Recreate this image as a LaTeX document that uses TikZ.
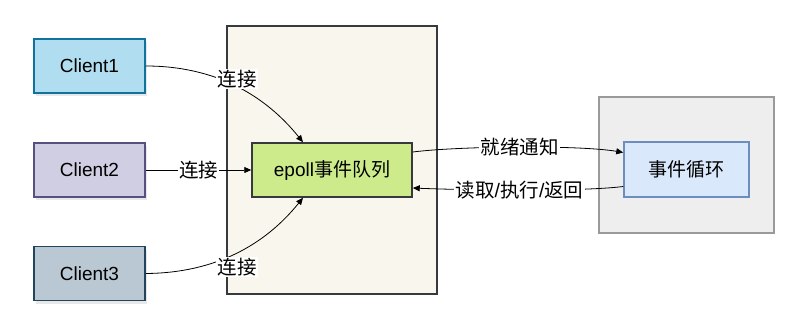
\documentclass[tikz,border=0pt]{standalone}
\usepackage{fontspec}
\setmainfont{Liberation Sans}
\newfontfamily\cjk{Noto Sans CJK SC}
\usetikzlibrary{arrows.meta,shadows}
\definecolor{cOneF}{HTML}{B1DDF0}
\definecolor{cOneD}{HTML}{10739E}
\definecolor{cTwoF}{HTML}{D0CEE2}
\definecolor{cTwoD}{HTML}{56517E}
\definecolor{cThrF}{HTML}{BAC8D3}
\definecolor{cThrD}{HTML}{23445D}
\definecolor{epF}{HTML}{CDEB8B}
\definecolor{darkD}{HTML}{36393D}
\definecolor{bigF}{HTML}{F9F7ED}
\definecolor{loopF}{HTML}{EEEEEE}
\definecolor{loopD}{HTML}{9A9A9A}
\definecolor{innF}{HTML}{DAE8FC}
\definecolor{innD}{HTML}{6C8EBF}
\tikzset{
  box/.style={draw, line width=1.5pt, minimum width=111pt, minimum height=54pt, inner sep=0pt, font=\fontsize{19}{22}\selectfont},
  shad/.style={drop shadow={opacity=0.18, shadow xshift=2pt, shadow yshift=-3pt}},
  conn/.style={draw=black, line width=0.8pt, -{Triangle[length=7pt,width=6pt]}},
  lbl/.style={fill=white, inner sep=1.2pt, font=\cjk\fontsize{19.5}{22}\selectfont},
}
\newcommand{\lsl}{{\fontspec{Liberation Sans}/}}
\begin{document}
\begin{tikzpicture}[x=1pt,y=-1pt]
\useasboundingbox (0,0) rectangle (812,334);
% containers
\node[draw=darkD, fill=bigF, line width=2pt, minimum width=210pt, minimum height=268pt, inner sep=0pt] (big) at (332,160) {};
\node[draw=loopD, fill=loopF, line width=2pt, minimum width=175pt, minimum height=136pt, inner sep=0pt] (loopbox) at (686.5,165) {};
% clients
\node[box, shad, draw=cOneD, fill=cOneF] (c1) at (89.5,66) {Client1};
\node[box, shad, draw=cTwoD, fill=cTwoF] (c2) at (89.5,170) {Client2};
\node[box, shad, draw=cThrD, fill=cThrF] (c3) at (89.5,273.5) {Client3};
% epoll
\node[box, draw=darkD, fill=epF, minimum width=160pt] (ep) at (332,170) {epoll{\cjk 事件队列}};
% event loop
\node[box, draw=innD, fill=innF, minimum width=125pt, minimum height=55pt] (loop) at (686.5,169.5) {\cjk 事件循环};
% anchors
\coordinate (epT) at ([xshift=-29pt]ep.north);
\coordinate (epB) at ([xshift=-29pt]ep.south);
\coordinate (epR1) at ([yshift=18pt]ep.east);
\coordinate (epR2) at ([yshift=-18pt]ep.east);
\coordinate (loL1) at ([yshift=17pt]loop.west);
\coordinate (loL2) at ([yshift=-17pt]loop.west);
% connectors
\draw[conn] (c1.east) .. controls (215,66) and (265,95) .. (epT) node[lbl, pos=0.4, xshift=17pt, yshift=0pt] {连接};
\draw[conn] (c2.east) -- (ep.west) node[lbl, midway] {连接};
\draw[conn] (c3.east) .. controls (215,273) and (265,245) .. (epB) node[lbl, pos=0.4, xshift=17pt, yshift=-7pt] {连接};
\draw[conn] (epR1) .. controls (460,146) and (580,145) .. (loL1) node[lbl, pos=0.5] {就绪通知};
\draw[conn] (loL2) .. controls (580,192) and (460,190) .. (epR2) node[lbl, pos=0.5] {读取\lsl 执行\lsl 返回};
\end{tikzpicture}
\end{document}
